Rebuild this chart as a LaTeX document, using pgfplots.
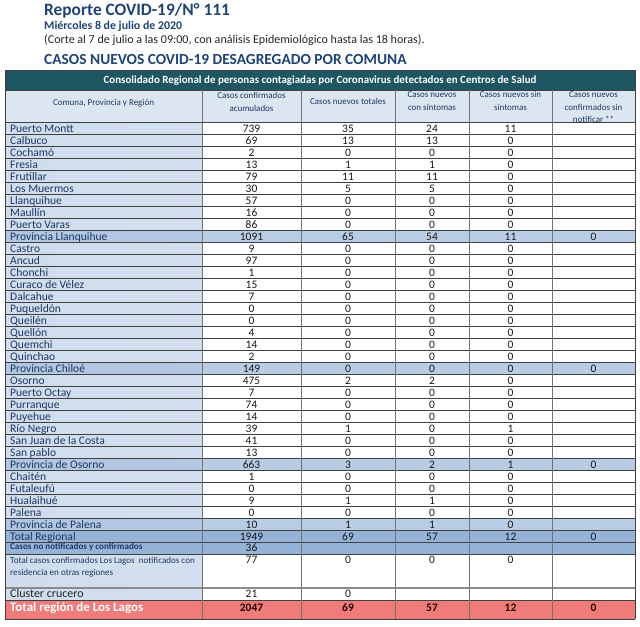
\documentclass[border=0pt]{standalone}
\usepackage{pgfplots}
\pgfplotsset{compat=1.18}
\usepackage{pgfplotstable}
\usepackage{fontspec}
\setmainfont{Carlito}
\definecolor{titleblue}{HTML}{1F4372}
\definecolor{navy}{HTML}{1F3864}
\definecolor{tealbar}{HTML}{1F5663}
\definecolor{lightb}{HTML}{DCE6F1}
\definecolor{provb}{HTML}{B8CCE4}
\definecolor{totb}{HTML}{95B3D7}
\definecolor{redb}{HTML}{EF7B7B}
\definecolor{gridc}{HTML}{404040}
\newcommand{\fs}[1]{\fontsize{#1}{#1}\selectfont}

\pgfplotstableread[col sep=comma]{
k,name,acc,tot,sin,asin,nonot
0,Puerto Montt,739,35,24,11,
1,Calbuco,69,13,13,0,
2,Cochamó,2,0,0,0,
3,Fresia,13,1,1,0,
4,Frutillar,79,11,11,0,
5,Los Muermos,30,5,5,0,
6,Llanquihue,57,0,0,0,
7,Maullín,16,0,0,0,
8,Puerto Varas,86,0,0,0,
9,Provincia Llanquihue,1091,65,54,11,0
10,Castro,9,0,0,0,
11,Ancud,97,0,0,0,
12,Chonchi,1,0,0,0,
13,Curaco de Vélez,15,0,0,0,
14,Dalcahue,7,0,0,0,
15,Puqueldón,0,0,0,0,
16,Queilén,0,0,0,0,
17,Quellón,4,0,0,0,
18,Quemchi,14,0,0,0,
19,Quinchao,2,0,0,0,
20,Provincia Chiloé,149,0,0,0,0
21,Osorno,475,2,2,0,
22,Puerto Octay,7,0,0,0,
23,Purranque,74,0,0,0,
24,Puyehue,14,0,0,0,
25,Río Negro,39,1,0,1,
26,San Juan de la Costa,41,0,0,0,
27,San pablo,13,0,0,0,
28,Provincia de Osorno,663,3,2,1,0
29,Chaitén,1,0,0,0,
30,Futaleufú,0,0,0,0,
31,Hualaihué,9,1,1,0,
32,Palena,0,0,0,0,
33,Provincia de Palena,10,1,1,0,
34,Total Regional,1949,69,57,12,0
}\rows

\pgfplotstableread[col sep=comma]{
y,acc,tot,sin,asin
551.5,36,,,
563.3,77,0,0,0
597.7,21,0,,
}\extrarows

\pgfplotstableread[col sep=comma]{
y,acc,tot,sin,asin,nonot
611.5,2047,69,57,12,0
}\totalrow

\pgfplotsset{
  txt/.style={only marks, mark=none, point meta=explicit symbolic,
    nodes near coords, nodes near coords align={anchor=#1},
    every node near coord/.append style={inner sep=0pt, anchor=#1}},
  num/.style={txt=base, every node near coord/.append style={font=\fs{11.5}, text=black!90}},
  nam/.style={txt=base west, every node near coord/.append style={font=\fs{11.6}, text=navy}},
  tnum/.style={txt=base, every node near coord/.append style={font=\fs{11.5}\bfseries, text=black!85!red}},
}

\begin{document}
\begin{tikzpicture}
\begin{axis}[scale only axis, width=640bp, height=626bp,
  xmin=0, xmax=640, ymin=0, ymax=626, y dir=reverse,
  hide axis, clip=false]
\fill[white] (axis cs:0,0) rectangle (axis cs:640,626);

% titles
\node[anchor=base west, inner sep=0, text=titleblue, font=\fs{17.4}\bfseries] at (axis cs:44,15.3) {Reporte COVID-19/N° 111};
\node[anchor=base west, inner sep=0, text=titleblue, font=\fs{11.9}\bfseries] at (axis cs:44,29.3) {Miércoles 8 de julio de 2020};
\node[anchor=base west, inner sep=0, text=black!85, font=\fs{12.1}] at (axis cs:44,43.3) {(Corte al 7 de julio a las 09:00, con análisis Epidemiológico hasta las 18 horas).};
\node[anchor=base west, inner sep=0, text=titleblue, font=\fs{15.45}\bfseries] at (axis cs:44,64.3) {CASOS NUEVOS COVID-19 DESAGREGADO POR COMUNA};

% backgrounds
\fill[tealbar] (axis cs:5,70) rectangle (axis cs:635,90);
\fill[lightb] (axis cs:5,90) rectangle (axis cs:635,122);
\shade[left color=lightb!65!provb, middle color=lightb!70!white, right color=lightb!75!provb] (axis cs:5,122) rectangle (axis cs:202,600);
\pgfplotsinvokeforeach{9,20,28,33}{
  \fill[provb] (axis cs:202,{122+12*#1}) rectangle (axis cs:635,{134+12*#1});
  \shade[left color=provb!80!totb, middle color=provb!70!white, right color=provb!85!totb] (axis cs:5,{122+12*#1}) rectangle (axis cs:202,{134+12*#1});
}
\fill[totb] (axis cs:5,530) rectangle (axis cs:635,554);
\fill[redb] (axis cs:5,600) rectangle (axis cs:635,619);

% grid lines
\pgfplotsinvokeforeach{0,...,36}{
  \draw[gridc, line width=0.6pt] (axis cs:5,{122+12*#1}) -- (axis cs:635,{122+12*#1});
}
\draw[gridc, line width=0.6pt] (axis cs:5,90) -- (axis cs:635,90);
\draw[black!45, line width=1.6pt] (axis cs:5,588) -- (axis cs:635,588);
\draw[gridc, line width=0.6pt] (axis cs:5,600) -- (axis cs:635,600);
\draw[gridc, line width=0.8pt] (axis cs:5,619) -- (axis cs:635,619);
\pgfplotsinvokeforeach{202,301,395,469,552}{
  \draw[black!55, line width=0.7pt] (axis cs:#1,90) -- (axis cs:#1,619);
}
\draw[gridc, line width=0.8pt] (axis cs:5,70) -- (axis cs:5,619);
\draw[gridc, line width=0.8pt] (axis cs:635,70) -- (axis cs:635,619);
\draw[gridc, line width=0.6pt] (axis cs:5,70) -- (axis cs:635,70);

% header texts
\node[anchor=base, inner sep=0, text=white, font=\fs{11}\bfseries] at (axis cs:320,83.5) {Consolidado Regional de personas contagiadas por Coronavirus detectados en Centros de Salud};
\begin{scope}[every node/.style={anchor=base, inner sep=0, text=navy, font=\fs{9}}]
\node at (axis cs:103.5,105.5) {Comuna, Provincia y Región};
\node at (axis cs:251.5,98) {Casos confirmados};
\node at (axis cs:251.5,111) {acumulados};
\node at (axis cs:348,104.5) {Casos nuevos totales};
\node at (axis cs:432,97.5) {Casos nuevos};
\node at (axis cs:432,110.5) {con síntomas};
\node at (axis cs:510.5,97.5) {Casos nuevos sin};
\node at (axis cs:510.5,110.5) {síntomas};
\node at (axis cs:593.5,97.5) {Casos nuevos};
\node at (axis cs:593.5,110) {confirmados sin};
\node at (axis cs:593.5,122.5) {notificar **};
\end{scope}

% special name cells
\node[anchor=base west, inner sep=0, text=navy, font=\fs{9.1}\bfseries] at (axis cs:10,549.5) {Casos no notificados y confirmados};
\node[anchor=base west, inner sep=0, text=navy, font=\fs{9.1}] at (axis cs:10,563.5) {Total casos confirmados Los Lagos\ \ notificados con};
\node[anchor=base west, inner sep=0, text=navy, font=\fs{9.1}] at (axis cs:10,575.5) {residencia en otras regiones};
\node[anchor=base west, inner sep=0, text=black!85, font=\fs{12}] at (axis cs:10,597.7) {Cluster crucero};
\node[anchor=base west, inner sep=0, text=white, font=\fs{13}\bfseries] at (axis cs:10,611.5) {Total región de Los Lagos};

% data rows
\addplot[nam] table[x expr=10, y expr=132.2+12*\thisrow{k}, meta=name] {\rows};
\addplot[num] table[x expr=251.5, y expr=132.2+12*\thisrow{k}, meta=acc] {\rows};
\addplot[num] table[x expr=348, y expr=132.2+12*\thisrow{k}, meta=tot] {\rows};
\addplot[num] table[x expr=432, y expr=132.2+12*\thisrow{k}, meta=sin] {\rows};
\addplot[num] table[x expr=510.5, y expr=132.2+12*\thisrow{k}, meta=asin] {\rows};
\addplot[num] table[x expr=593.5, y expr=132.2+12*\thisrow{k}, meta=nonot] {\rows};

\addplot[num] table[x expr=251.5, y=y, meta=acc] {\extrarows};
\addplot[num] table[x expr=348, y=y, meta=tot] {\extrarows};
\addplot[num] table[x expr=432, y=y, meta=sin] {\extrarows};
\addplot[num] table[x expr=510.5, y=y, meta=asin] {\extrarows};

\addplot[tnum] table[x expr=251.5, y=y, meta=acc] {\totalrow};
\addplot[tnum] table[x expr=348, y=y, meta=tot] {\totalrow};
\addplot[tnum] table[x expr=432, y=y, meta=sin] {\totalrow};
\addplot[tnum] table[x expr=510.5, y=y, meta=asin] {\totalrow};
\addplot[tnum] table[x expr=593.5, y=y, meta=nonot] {\totalrow};
\end{axis}
\end{tikzpicture}
\end{document}
